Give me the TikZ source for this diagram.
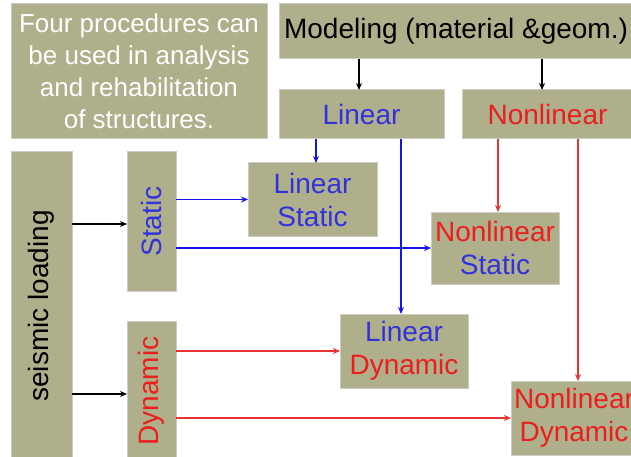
\documentclass[tikz,border=0pt]{standalone}
\usepackage{fontspec}
\setmainfont{Liberation Sans}
\usepackage{graphicx}
\usetikzlibrary{arrows.meta}
\definecolor{boxfill}{RGB}{175,175,140}
\definecolor{boxline}{RGB}{205,205,195}
\definecolor{tblue}{RGB}{50,50,220}
\definecolor{tred}{RGB}{235,30,30}
\definecolor{ablue}{RGB}{20,20,230}
\definecolor{ared}{RGB}{235,50,50}
\begin{document}
\begin{tikzpicture}[x=1pt,y=-1pt,
  box/.style={draw=boxline, line width=1pt, fill=boxfill, inner sep=0pt, outer sep=0pt,
    align=center, font=\fontsize{28}{33}\selectfont},
  conn/.style={line width=1.5pt, -{Stealth[length=7pt,width=6pt]}},
  bconn/.style={conn, ablue},
  rconn/.style={conn, ared},
]
\useasboundingbox (0,0) rectangle (631,457);
\clip (0,0) rectangle (631,457);

\node[box, minimum width=256, minimum height=135, text=white,
      font=\fontsize{26}{32}\selectfont] (intro) at (139,71.5)
  {Four procedures can\\be used in analysis\\and rehabilitation\\of structures.};
\node[box, minimum width=354, minimum height=55] (mod) at (456,31.5) {Modeling (material \&geom.)};
\node[box, minimum width=165, minimum height=49, text=tblue] (lin) at (361.5,114.5) {Linear};
\node[box, minimum width=171, minimum height=49, text=tred] (nlin) at (547.5,114.5) {Nonlinear};
\node[box, minimum width=61, minimum height=308] (seis) at (41.5,306) {\rotatebox{90}{seismic loading}};
\node[box, minimum width=49, minimum height=139, text=tblue] (st) at (151.5,221.5) {\rotatebox{90}{Static}};
\node[box, minimum width=49, minimum height=140, text=tred] (dyn) at (151.5,391) {\rotatebox{90}{Dynamic}};
\node[box, minimum width=129, minimum height=73, text=tblue] (ls) at (312.5,199.5) {Linear\\Static};
\node[box, minimum width=128, minimum height=72] (ns) at (495,248) {\textcolor{tred}{Nonlinear}\\\textcolor{tblue}{Static}};
\node[box, minimum width=128, minimum height=74] (ld) at (404,351) {\textcolor{tblue}{Linear}\\\textcolor{tred}{Dynamic}};
\node[box, minimum width=126, minimum height=74, text=tred] (nld) at (574,418) {Nonlinear\\Dynamic};

\coordinate (xa) at (359,0);
\coordinate (xb) at (542,0);
\coordinate (xc) at (316,0);
\coordinate (xd) at (401,0);
\coordinate (xe) at (498,0);
\coordinate (xf) at (578,0);
\coordinate (ya) at (0,224);
\coordinate (yb) at (0,394);

\draw[conn] (xa |- mod.south) -- (xa |- lin.north);
\draw[conn] (xb |- mod.south) -- (xb |- nlin.north);
\draw[conn] (seis.east |- ya) -- (st.west |- ya);
\draw[conn] (seis.east |- yb) -- (dyn.west |- yb);

\draw[bconn] (st.east |- ls.west) -- (ls.west);
\draw[bconn] (st.east |- ns.west) -- (ns.west);
\draw[bconn] (xc |- lin.south) -- (xc |- ls.north);
\draw[bconn] (xd |- lin.south) -- (xd |- ld.north);

\draw[rconn] (dyn.east |- ld.west) -- (ld.west);
\draw[rconn] (dyn.east |- nld.west) -- (nld.west);
\draw[rconn] (xe |- nlin.south) -- (xe |- ns.north);
\draw[rconn] (xf |- nlin.south) -- (xf |- nld.north);
\end{tikzpicture}
\end{document}
